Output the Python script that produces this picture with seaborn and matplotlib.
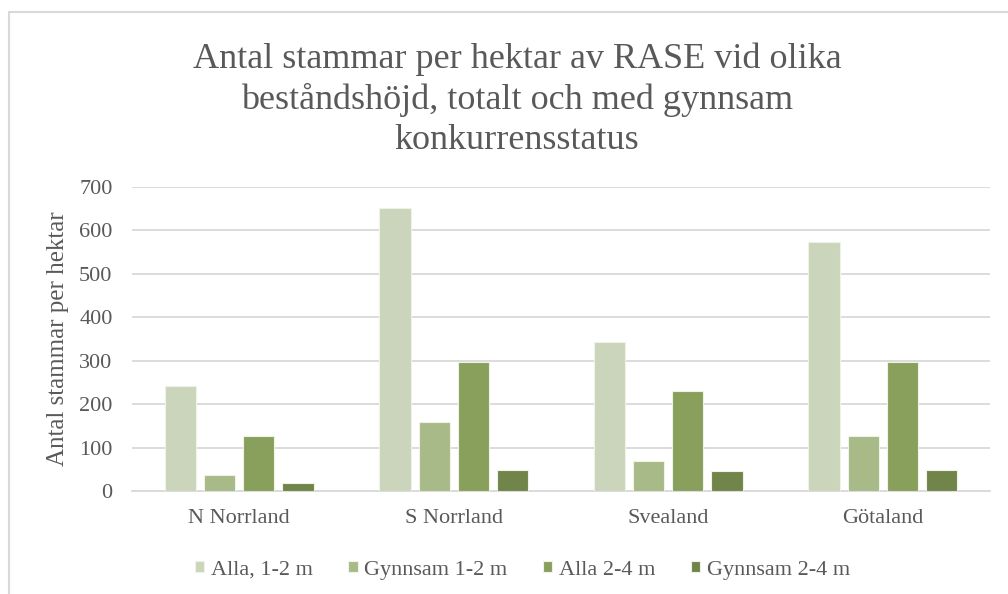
import pandas as pd
import seaborn as sns
import matplotlib.pyplot as plt
from matplotlib.patches import Rectangle

# data
regions = ['N Norrland', 'S Norrland', 'Svealand', 'Götaland']
series = ['Alla, 1-2 m', 'Gynnsam 1-2 m', 'Alla 2-4 m', 'Gynnsam 2-4 m']
alla_1_2 = [242, 652, 342, 573]
gynnsam_1_2 = [36, 160, 70, 126]
alla_2_4 = [126, 296, 231, 298]
gynnsam_2_4 = [18, 48, 46, 48]
colors = ['#CCD9B7', '#AAC27F', '#8BAB51', '#758E3F']

values = [alla_1_2, gynnsam_1_2, alla_2_4, gynnsam_2_4]
rows = []
for s, vals in zip(series, values):
    for r, v in zip(regions, vals):
        rows.append({'region': r, 'serie': s, 'value': v})
df = pd.DataFrame(rows)

sns.set_style('white')
plt.rcParams['font.family'] = ['Liberation Serif', 'DejaVu Serif']
grey = '#595959'

fig = plt.figure(figsize=(10.08, 5.94), dpi=100)
ax = fig.add_axes([132 / 1008, 1 - 491 / 594, 858 / 1008, 304 / 594])

sns.barplot(data=df, x='region', y='value', hue='serie', order=regions,
            hue_order=series, palette=colors, width=0.73, gap=0.2,
            edgecolor='#EEF3E6', linewidth=0.8, ax=ax, zorder=3)

ax.set_ylim(0, 700)
ax.set_yticks(range(0, 701, 100))
ax.yaxis.grid(True, color='#D9D9D9', linewidth=1.3, zorder=0)
ax.set_axisbelow(True)
for sp in ['top', 'right', 'left']:
    ax.spines[sp].set_visible(False)
ax.spines['bottom'].set_color('#D9D9D9')
ax.spines['bottom'].set_linewidth(1.3)
ax.tick_params(axis='both', length=0, labelsize=16, labelcolor=grey)
ax.tick_params(axis='y', pad=14)
ax.tick_params(axis='x', pad=13)
ax.set_xlabel('')
ax.set_ylabel('Antal stammar per hektar', fontsize=18, color=grey, labelpad=7)

leg = ax.legend(loc='center', bbox_to_anchor=(0.455, -0.26), ncol=4,
                frameon=False, fontsize=16, handlelength=0.42,
                handleheight=0.42, handletextpad=0.3, columnspacing=1.6)
for t in leg.get_texts():
    t.set_color(grey)

fig.text(0.513, 0.929, 'Antal stammar per hektar av RASE vid olika\n'
         'beståndshöjd, totalt och med gynnsam\nkonkurrensstatus',
         ha='center', va='top', fontsize=26, color=grey, linespacing=1.28)

# chart frame
fig.patches.append(Rectangle((9 / 1008, -0.1), 1.2, 1 - 12 / 594 + 0.1,
                             transform=fig.transFigure, fill=False,
                             edgecolor='#D9D9D9', linewidth=1.5))

fig.savefig('out.png', dpi=100)
